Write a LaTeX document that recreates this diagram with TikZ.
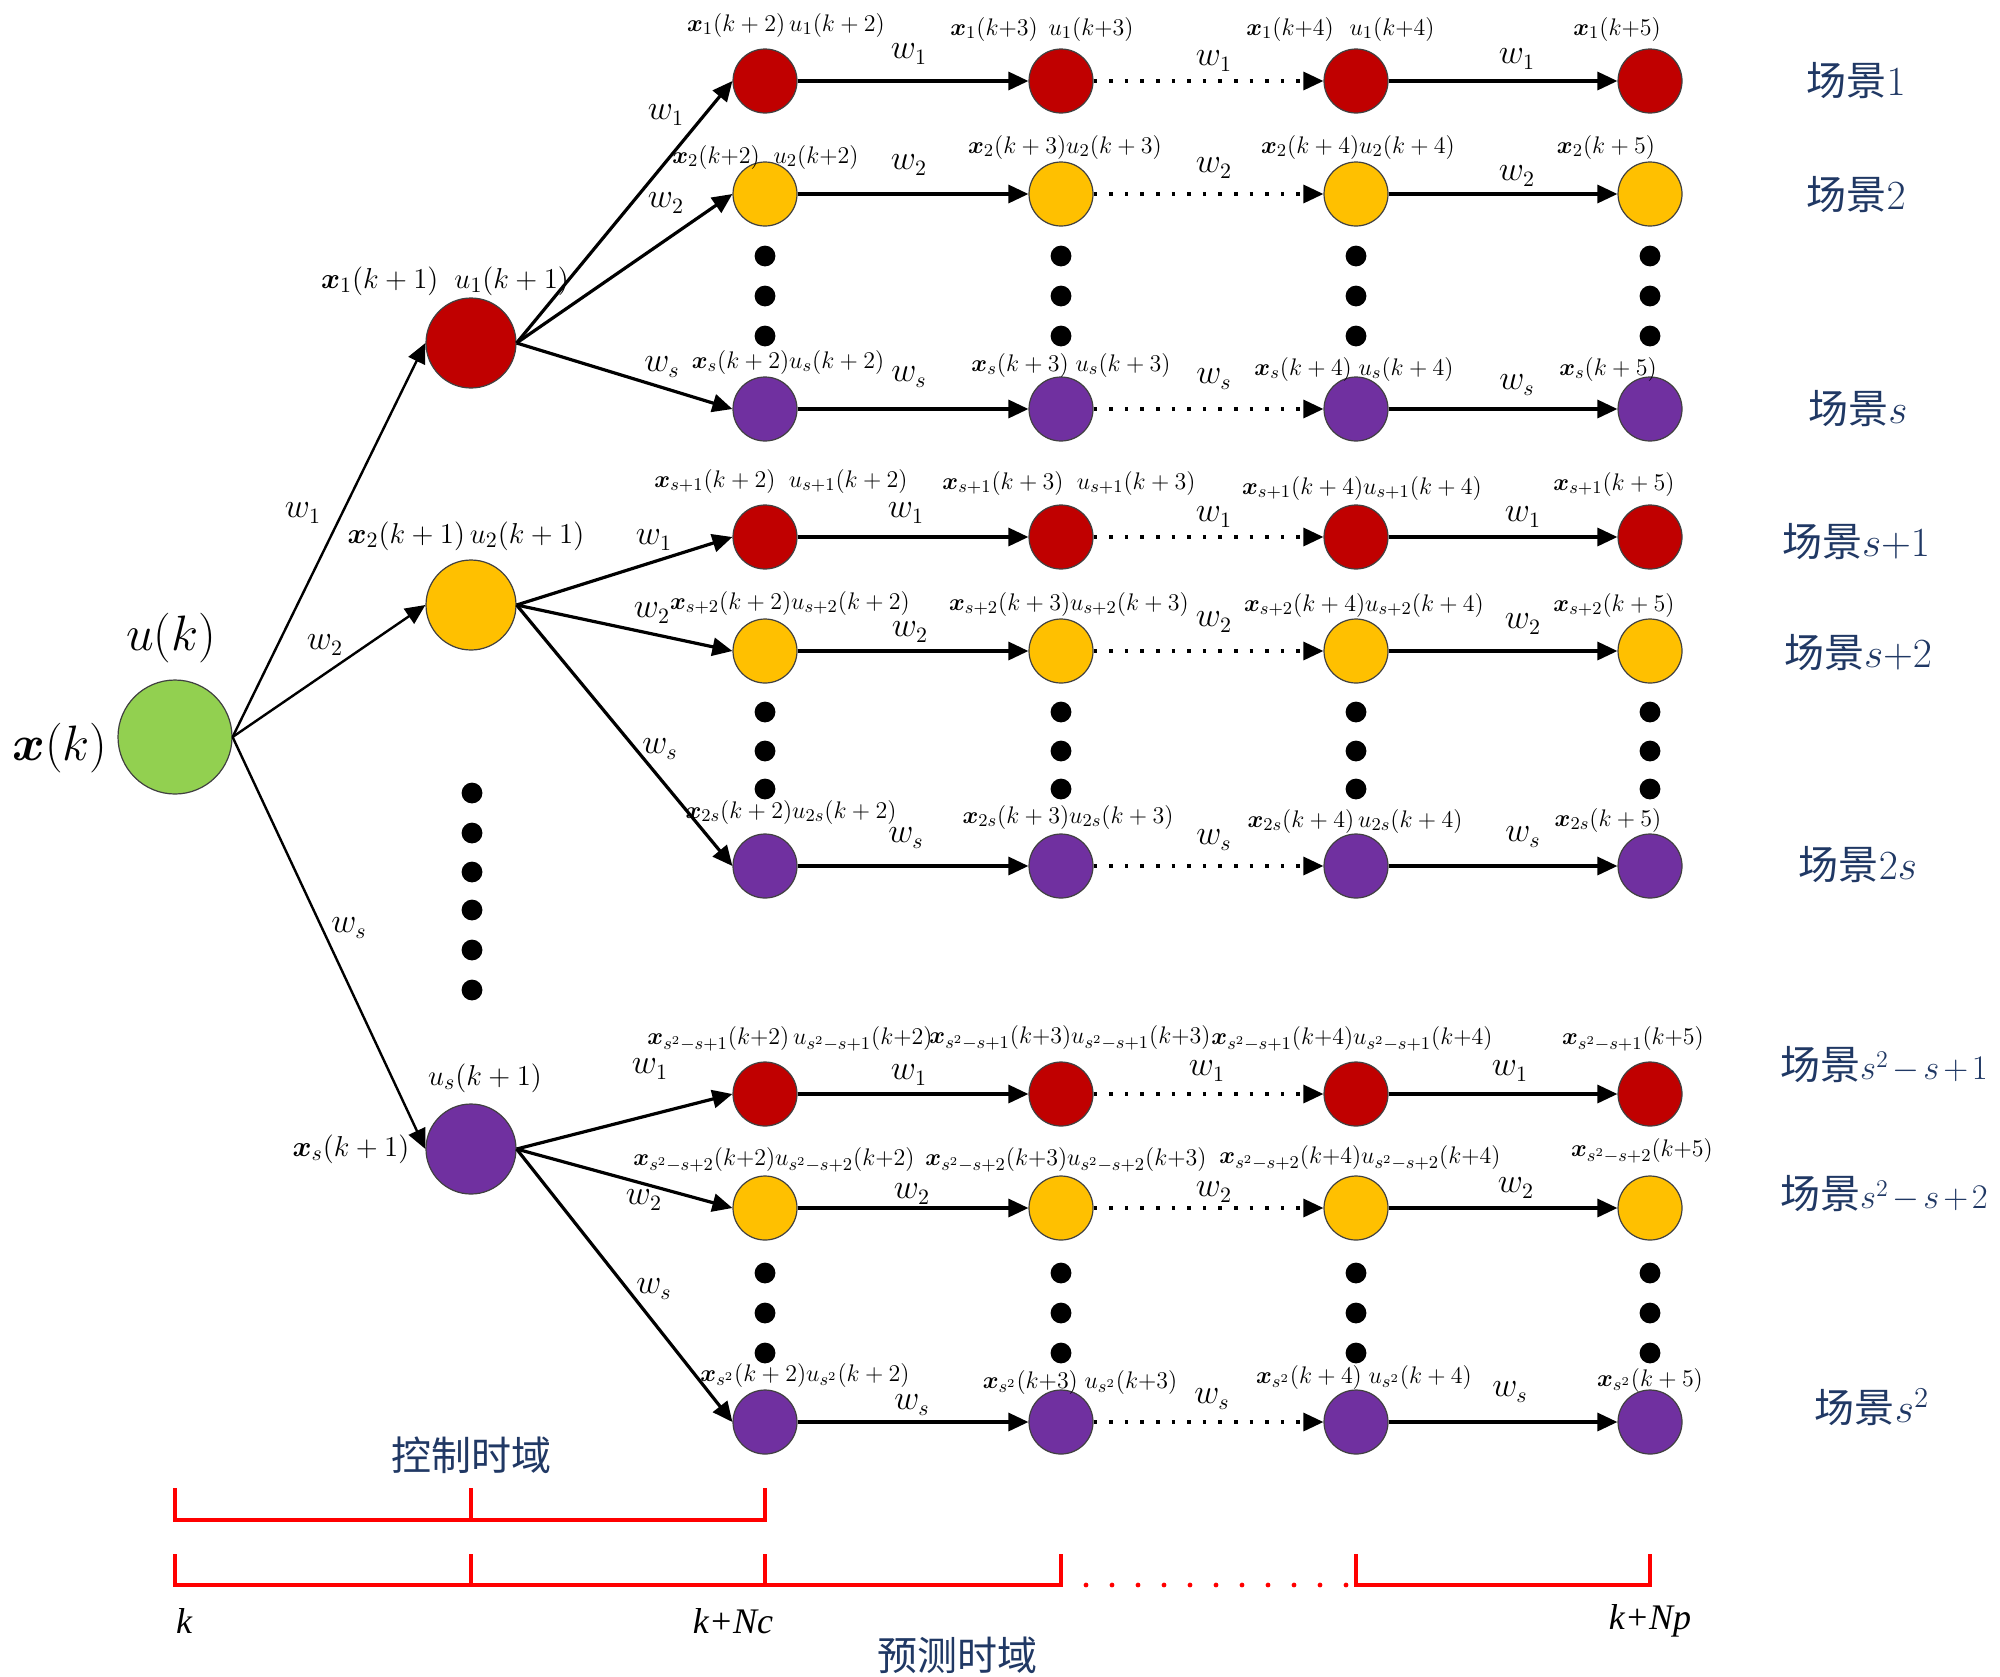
\documentclass[tikz,border=0pt]{standalone}
\usepackage{amsmath}
\usepackage{bm}
\usepackage{fontspec}
\setmainfont{Liberation Serif}
\newfontfamily\cjk{Noto Sans CJK SC}
\usetikzlibrary{arrows.meta}
\definecolor{cred}{RGB}{192,0,0}
\definecolor{cyel}{RGB}{255,192,0}
\definecolor{cpur}{RGB}{112,48,160}
\definecolor{cgrn}{RGB}{146,208,80}
\definecolor{cnavy}{RGB}{32,56,100}
\definecolor{tred}{RGB}{255,0,0}
\newcommand\bx{\bm{x}}
\newcommand\kp[1]{(k{+}#1)}
\begin{document}
\begin{tikzpicture}[x=0.5pt,y=-0.5pt,
  st/.style={circle,draw=black!75,line width=0.6pt,minimum size=32pt,inner sep=0pt},
  big/.style={circle,draw=black!75,line width=0.6pt,minimum size=45pt,inner sep=0pt},
  root/.style={circle,draw=black!75,line width=0.6pt,minimum size=57pt,inner sep=0pt,fill=cgrn},
  lbl/.style={inner sep=0pt,font=\fontsize{13}{15}\selectfont},
  lbls/.style={inner sep=0pt,font=\fontsize{12.5}{15}\selectfont},
  lbla/.style={inner sep=0pt,font=\fontsize{15}{17}\selectfont},
  wl/.style={inner sep=0pt,font=\fontsize{16}{18}\selectfont},
  huge/.style={inner sep=0pt,font=\fontsize{29}{32}\selectfont},
  scn/.style={inner sep=0pt,text=cnavy,font=\fontsize{20}{24}\selectfont},
  tlab/.style={inner sep=0pt,font=\fontsize{18}{20}\selectfont\itshape},
  arr/.style={line width=1.6pt,-{Triangle[length=10pt,width=9pt]}},
  arrz/.style={line width=1.2pt,-{Triangle[length=10pt,width=9pt]}},
  darr/.style={arr,dash pattern=on 1.8pt off 6pt},
  tl/.style={tred,line width=2.4pt},
  tld/.style={tred,line width=2.4pt,line cap=round,dash pattern=on 0pt off 13pt},
  bdot/.style={fill=black},
]
\useasboundingbox (0,0) rectangle (2000,1676);

% grid nodes
\foreach \r/\yy/\cc in {1/81/cred,2/194/cyel,3/409/cpur,4/537/cred,5/651/cyel,6/866/cpur,7/1094/cred,8/1208/cyel,9/1422/cpur}{
  \foreach \c/\xx in {1/765,2/1061,3/1356,4/1650}{
    \node[st,fill=\cc] (n-\r-\c) at (\xx,\yy) {};
  }
  \draw[arr] (n-\r-1.east) -- (n-\r-2.west);
  \draw[darr] (n-\r-2.east) -- (n-\r-3.west);
  \draw[arr] (n-\r-3.east) -- (n-\r-4.west);
}

% level 1 and root
\node[root] (g) at (175,737) {};
\node[big,fill=cred] (a1) at (471,343) {};
\node[big,fill=cyel] (a2) at (471,605) {};
\node[big,fill=cpur] (a3) at (471,1149) {};
\draw[arrz] (g.east) -- (a1.west);
\draw[arrz] (g.east) -- (a2.west);
\draw[arrz] (g.east) -- (a3.west);
\foreach \p/\a/\b/\c in {a1/1/2/3,a2/4/5/6,a3/7/8/9}{
  \draw[arr] (\p.east) -- (n-\a-1.west);
  \draw[arr] (\p.east) -- (n-\b-1.west);
  \draw[arr] (\p.east) -- (n-\c-1.west);
}

% vertical dots
\foreach \xx in {765,1061,1356,1650}{
  \foreach \yy in {256,296,336,712,751,789,1273,1313,1353}{
    \fill[bdot] (\xx,\yy) circle (5.2pt);
  }
}
\foreach \yy in {793,833,872,910,950,990}{
  \fill[bdot] (472,\yy) circle (5.2pt);
}

% root labels
\node[huge] (lxk) at (60,748) {$\bx(k)$};
\node[huge] (luk) at (171,638) {$u(k)$};
\node[wl] (w01) at (303,513) {$w_1$};
\node[wl] (w02) at (325,645) {$w_2$};
\node[wl] (w0s) at (349,928) {$w_s$};

% level-1 labels
\node[lbla] (la1) at (445,281) {$\bx_1(k+1)\;\;u_1(k+1)$};
\node[lbla] (la2) at (466,536) {$\bx_2(k+1)\,u_2(k+1)$};
\node[lbla] (la3u) at (485,1078) {$u_s(k+1)$};
\node[lbla] (la3x) at (351,1149) {$\bx_s(k+1)$};

% branch w labels
\node[wl] (wb11) at (666,115) {$w_1$};
\node[wl] (wb12) at (666,203) {$w_2$};
\node[wl] (wb13) at (662,367) {$w_s$};
\node[wl] (wb21) at (654,540) {$w_1$};
\node[wl] (wb22) at (652,613) {$w_2$};
\node[wl] (wb23) at (660,749) {$w_s$};
\node[wl] (wb31) at (650,1069) {$w_1$};
\node[wl] (wb32) at (644,1200) {$w_2$};
\node[wl] (wb33) at (654,1289) {$w_s$};

% horizontal w labels
\foreach \r/\w/\ya/\yb/\yc/\xa/\xb/\xc in {
  1/1/54/61/59/909/1214/1517,
  2/2/165/168/176/909/1214/1517,
  3/s/377/379/385/909/1214/1517,
  4/1/513/517/517/906/1214/1523,
  5/2/632/622/624/910/1214/1523,
  6/s/838/840/837/906/1214/1523,
  7/1/1075/1071/1071/909/1207/1510,
  8/2/1194/1192/1188/912/1214/1516,
  9/s/1405/1399/1392/912/1212/1510}{
  \node[wl] (wh-\r-1) at (\xa,\ya) {$w_{\w}$};
  \node[wl] (wh-\r-2) at (\xb,\yb) {$w_{\w}$};
  \node[wl] (wh-\r-3) at (\xc,\yc) {$w_{\w}$};
}

% row 1
\node[lbl] (l11) at (786,25) {$\bx_1(k+2)\,u_1(k+2)$};
\node[lbl] (l12x) at (994,29) {$\bx_1\kp3$};
\node[lbl] (l12u) at (1091,29) {$u_1\kp3$};
\node[lbl] (l13x) at (1290,29) {$\bx_1\kp4$};
\node[lbl] (l13u) at (1392,29) {$u_1\kp4$};
\node[lbl] (l14) at (1617,29) {$\bx_1\kp5$};
% row 2
\node[lbl] (l21x) at (716,157) {$\bx_2\kp2$};
\node[lbl] (l21u) at (816,157) {$u_2\kp2$};
\node[lbl] (l22) at (1065,147) {$\bx_2(k+3)u_2(k+3)$};
\node[lbl] (l23) at (1358,147) {$\bx_2(k+4)u_2(k+4)$};
\node[lbl] (l24) at (1606,147) {$\bx_2(k+5)$};
% row 3
\node[lbl] (l31) at (788,362) {$\bx_s(k+2)u_s(k+2)$};
\node[lbl] (l32) at (1071,365) {$\bx_s(k+3)\;u_s(k+3)$};
\node[lbl] (l33) at (1354,369) {$\bx_s(k+4)\;u_s(k+4)$};
\node[lbl] (l34) at (1608,369) {$\bx_s(k+5)$};
% row 4
\node[lbl] (l41) at (781,481) {$\bx_{s+1}(k+2)\;\;u_{s+1}(k+2)$};
\node[lbl] (l42) at (1069,483) {$\bx_{s+1}(k+3)\;\;u_{s+1}(k+3)$};
\node[lbl] (l43) at (1362,488) {$\bx_{s+1}(k+4)u_{s+1}(k+4)$};
\node[lbl] (l44) at (1614,484) {$\bx_{s+1}(k+5)$};
% row 5
\node[lbl] (l51) at (790,603) {$\bx_{s+2}(k+2)u_{s+2}(k+2)$};
\node[lbl] (l52) at (1069,604) {$\bx_{s+2}(k+3)u_{s+2}(k+3)$};
\node[lbl] (l53) at (1364,605) {$\bx_{s+2}(k+4)u_{s+2}(k+4)$};
\node[lbl] (l54) at (1614,605) {$\bx_{s+2}(k+5)$};
% row 6
\node[lbl] (l61) at (791,812) {$\bx_{2s}(k+2)u_{2s}(k+2)$};
\node[lbl] (l62) at (1068,817) {$\bx_{2s}(k+3)u_{2s}(k+3)$};
\node[lbl] (l63) at (1355,821) {$\bx_{2s}(k+4)\,u_{2s}(k+4)$};
\node[lbl] (l64) at (1608,820) {$\bx_{2s}(k+5)$};
% row 7
\node[lbls] (l71) at (790,1039) {$\bx_{s^2-s+1}\kp2\,u_{s^2-s+1}\kp2$};
\node[lbls] (l72) at (1070,1038) {$\bx_{s^2-s+1}\kp3u_{s^2-s+1}\kp3$};
\node[lbls] (l73) at (1352,1039) {$\bx_{s^2-s+1}\kp4u_{s^2-s+1}\kp4$};
\node[lbls] (l74) at (1633,1039) {$\bx_{s^2-s+1}\kp5$};
% row 8
\node[lbls] (l81) at (774,1160) {$\bx_{s^2-s+2}\kp2u_{s^2-s+2}\kp2$};
\node[lbls] (l82) at (1066,1160) {$\bx_{s^2-s+2}\kp3u_{s^2-s+2}\kp3$};
\node[lbls] (l83) at (1360,1158) {$\bx_{s^2-s+2}\kp4u_{s^2-s+2}\kp4$};
\node[lbls] (l84) at (1642,1151) {$\bx_{s^2-s+2}\kp5$};
% row 9
\node[lbl] (l91) at (805,1375) {$\bx_{s^2}(k+2)u_{s^2}(k+2)$};
\node[lbl] (l92) at (1080,1382) {$\bx_{s^2}\kp3\;u_{s^2}\kp3$};
\node[lbl] (l93) at (1364,1377) {$\bx_{s^2}(k+4)\;u_{s^2}(k+4)$};
\node[lbl] (l94) at (1650,1380) {$\bx_{s^2}(k+5)$};

% scene labels
\node[scn] (s1) at (1856,81) {{\cjk 场景}$1$};
\node[scn] (s2) at (1856,195) {{\cjk 场景}$2$};
\node[scn] (s3) at (1858,409) {{\cjk 场景}$s$};
\node[scn] (s4) at (1856,542) {{\cjk 场景}$s{+}1$};
\node[scn] (s5) at (1858,653) {{\cjk 场景}$s{+}2$};
\node[scn] (s6) at (1858,865) {{\cjk 场景}$2s$};
\node[scn] (s7) at (1884,1065) {{\cjk 场景}{\fontsize{18}{20}\selectfont$\medmuskip=2mu s^2-s+1$}};
\node[scn] (s8) at (1884,1194) {{\cjk 场景}{\fontsize{18}{20}\selectfont$\medmuskip=2mu s^2-s+2$}};
\node[scn] (s9) at (1872,1407) {{\cjk 场景}$s^2$};

% timeline
\draw[tl] (175,1488) -- (175,1520) -- (765,1520) -- (765,1488);
\draw[tl] (471,1488) -- (471,1520);
\draw[tl] (175,1554) -- (175,1585) -- (1061,1585) -- (1061,1554);
\draw[tl] (471,1554) -- (471,1585);
\draw[tl] (765,1554) -- (765,1585);
\draw[tld] (1086,1585) -- (1350,1585);
\draw[tl] (1356,1554) -- (1356,1585) -- (1650,1585) -- (1650,1554);

\node[scn] (ctrl) at (471,1455) {\cjk 控制时域};
\node[scn] (pred) at (957,1655) {\cjk 预测时域};
\node[tlab] (tk) at (184,1621) {k};
\node[tlab] (tnc) at (733,1621) {k+Nc};
\node[tlab] (tnp) at (1650,1621) {k+Np};
\end{tikzpicture}
\end{document}
